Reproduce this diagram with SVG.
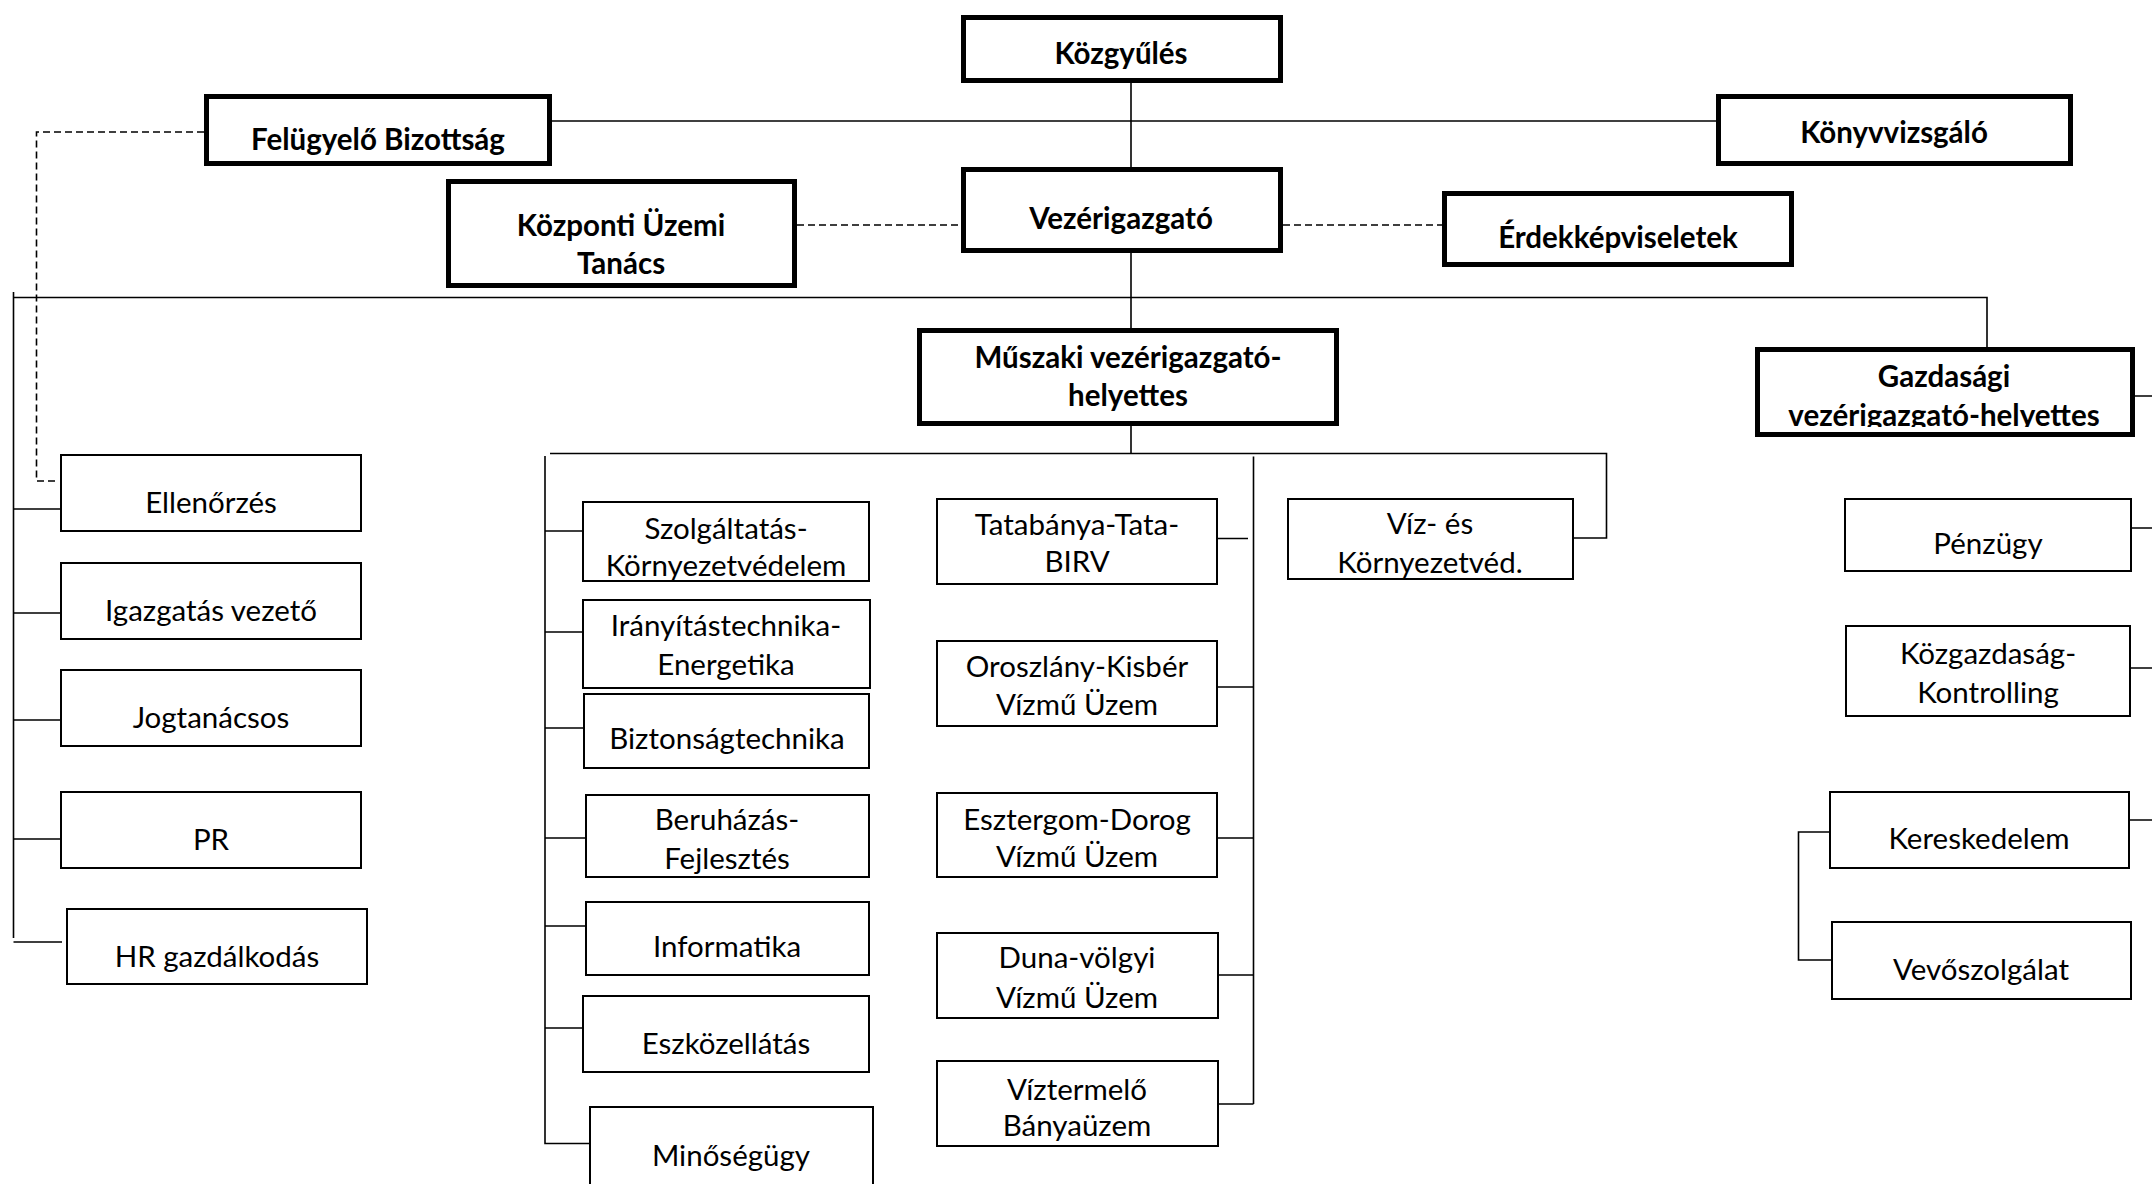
<svg xmlns="http://www.w3.org/2000/svg" width="2152" height="1184" viewBox="0 0 2152 1184">
<style>
.thick{fill:#fff;stroke:#000;stroke-width:5}
.thin{fill:#fff;stroke:#000;stroke-width:2}
.b{font-family:Lato,"Liberation Sans",sans-serif;font-weight:700;font-size:29.5px;text-anchor:middle;fill:#000}
.r{font-family:Lato,"Liberation Sans",sans-serif;font-weight:400;font-size:29.5px;text-anchor:middle;fill:#000}
.ln{stroke:#000;stroke-width:1.6;fill:none}
.ds{stroke-dasharray:7 4}
</style>
<defs>
<clipPath id="clipSz"><rect x="583" y="502" width="286" height="78"/></clipPath>
<clipPath id="clipViz"><rect x="1288" y="499" width="284" height="80"/></clipPath>
<clipPath id="clipGazd"><rect x="1760" y="352" width="370" height="75"/></clipPath>
</defs>
<rect width="2152" height="1184" fill="#fff"/>
<g id="connectors">
<path class="ln" d="M1131 83V167"/>
<path class="ln" d="M552 121H1716"/>
<path class="ln" d="M1131 253V328"/>
<path class="ln" d="M13 297.5H1987V347"/>
<path class="ln" d="M13.5 292V938"/>
<path class="ln" d="M13.5 509H60M13.5 613H60M13.5 720H60M13.5 839H60M13.5 942H62"/>
<path class="ln" d="M1131 426V453.5"/>
<path class="ln" d="M550 453.5H1606.5V538H1573"/>
<path class="ln" d="M545 456V1143.5H589"/>
<path class="ln" d="M545 531H582M545 632H582M545 728H583M545 838H585M545 926H585M545 1028H582"/>
<path class="ln" d="M1253.5 456.5V1104"/>
<path class="ln" d="M1217 538.5H1248M1217 687H1253.5M1217 838H1253.5M1218 975H1253.5M1218 1104H1253.5"/>
<path class="ln" d="M2135 396H2152M2132 528H2152M2131 668H2152M2130 820H2152"/>
<path class="ln" d="M1829 832H1798.5V960H1831"/>
<path class="ln ds" d="M204 132H36.5V481H58"/>
<path class="ln ds" d="M797 225H961"/>
<path class="ln ds" d="M1283 225H1442"/>
</g>
<g id="kozgyules"><rect class="thick" x="963.5" y="17.5" width="317" height="63"/><text class="b" x="1121" y="64">Közgyűlés</text></g>
<g id="felugyelo"><rect class="thick" x="206.5" y="96.5" width="343" height="67"/><text class="b" x="378" y="150">Felügyelő Bizottság</text></g>
<g id="konyvvizsgalo"><rect class="thick" x="1718.5" y="96.5" width="352" height="67"/><text class="b" x="1894" y="143">Könyvvizsgáló</text></g>
<g id="kut"><rect class="thick" x="448.5" y="181.5" width="346" height="104"/><text class="b" x="621" y="236">Központi Üzemi</text><text class="b" x="621" y="274">Tanács</text></g>
<g id="vezerigazgato"><rect class="thick" x="963.5" y="169.5" width="317" height="81"/><text class="b" x="1121" y="229">Vezérigazgató</text></g>
<g id="erdek"><rect class="thick" x="1444.5" y="193.5" width="347" height="71"/><text class="b" x="1618" y="248">Érdekképviseletek</text></g>
<g id="muszaki"><rect class="thick" x="919.5" y="330.5" width="417" height="93"/><text class="b" x="1128" y="368">Műszaki vezérigazgató-</text><text class="b" x="1128" y="406">helyettes</text></g>
<g id="gazdasagi"><rect class="thick" x="1757.5" y="349.5" width="375" height="85"/><text class="b" x="1944" y="387">Gazdasági</text><text class="b" x="1944" y="426" clip-path="url(#clipGazd)">vezérigazgató-helyettes</text></g>
<g id="ellenorzes"><rect class="thin" x="61" y="455" width="300" height="76"/><text class="r" x="211" y="513">Ellenőrzés</text></g>
<g id="igazgatas"><rect class="thin" x="61" y="563" width="300" height="76"/><text class="r" x="211" y="621">Igazgatás vezető</text></g>
<g id="jogtanacsos"><rect class="thin" x="61" y="670" width="300" height="76"/><text class="r" x="211" y="728">Jogtanácsos</text></g>
<g id="pr"><rect class="thin" x="61" y="792" width="300" height="76"/><text class="r" x="211" y="850">PR</text></g>
<g id="hr"><rect class="thin" x="67" y="909" width="300" height="75"/><text class="r" x="217" y="967">HR gazdálkodás</text></g>
<g id="szolgaltatas"><rect class="thin" x="583" y="502" width="286" height="79"/><text class="r" x="726" y="539">Szolgáltatás-</text><text class="r" x="726" y="576" clip-path="url(#clipSz)">Környezetvédelem</text></g>
<g id="iranyitas"><rect class="thin" x="583" y="600" width="287" height="88"/><text class="r" x="726" y="636">Irányítástechnika-</text><text class="r" x="726" y="675">Energetika</text></g>
<g id="biztonsag"><rect class="thin" x="584" y="694" width="285" height="74"/><text class="r" x="727" y="749">Biztonságtechnika</text></g>
<g id="beruhazas"><rect class="thin" x="586" y="795" width="283" height="82"/><text class="r" x="727" y="830">Beruházás-</text><text class="r" x="727" y="869">Fejlesztés</text></g>
<g id="informatika"><rect class="thin" x="586" y="902" width="283" height="73"/><text class="r" x="727" y="957">Informatika</text></g>
<g id="eszkozellatas"><rect class="thin" x="583" y="996" width="286" height="76"/><text class="r" x="726" y="1054">Eszközellátás</text></g>
<g id="minosegugy"><rect class="thin" x="590" y="1107" width="283" height="90"/><text class="r" x="731" y="1166">Minőségügy</text></g>
<g id="tatabanya"><rect class="thin" x="937" y="499" width="280" height="85"/><text class="r" x="1077" y="535">Tatabánya-Tata-</text><text class="r" x="1077" y="572">BIRV</text></g>
<g id="oroszlany"><rect class="thin" x="937" y="641" width="280" height="85"/><text class="r" x="1077" y="677">Oroszlány-Kisbér</text><text class="r" x="1077" y="715">Vízmű Üzem</text></g>
<g id="esztergom"><rect class="thin" x="937" y="793" width="280" height="84"/><text class="r" x="1077" y="830">Esztergom-Dorog</text><text class="r" x="1077" y="867">Vízmű Üzem</text></g>
<g id="dunavolgyi"><rect class="thin" x="937" y="933" width="281" height="85"/><text class="r" x="1077" y="968">Duna-völgyi</text><text class="r" x="1077" y="1008">Vízmű Üzem</text></g>
<g id="viztermelo"><rect class="thin" x="937" y="1061" width="281" height="85"/><text class="r" x="1077" y="1100">Víztermelő</text><text class="r" x="1077" y="1136">Bányaüzem</text></g>
<g id="viz"><rect class="thin" x="1288" y="499" width="285" height="80"/><text class="r" x="1430" y="534">Víz- és</text><text class="r" x="1430" y="573" clip-path="url(#clipViz)">Környezetvéd.</text></g>
<g id="penzugy"><rect class="thin" x="1845" y="499" width="286" height="72"/><text class="r" x="1988" y="554">Pénzügy</text></g>
<g id="kozgazdasag"><rect class="thin" x="1846" y="626" width="284" height="90"/><text class="r" x="1988" y="664">Közgazdaság-</text><text class="r" x="1988" y="703">Kontrolling</text></g>
<g id="kereskedelem"><rect class="thin" x="1830" y="792" width="299" height="76"/><text class="r" x="1979" y="849">Kereskedelem</text></g>
<g id="vevoszolgalat"><rect class="thin" x="1832" y="922" width="299" height="77"/><text class="r" x="1981" y="980">Vevőszolgálat</text></g>
</svg>
